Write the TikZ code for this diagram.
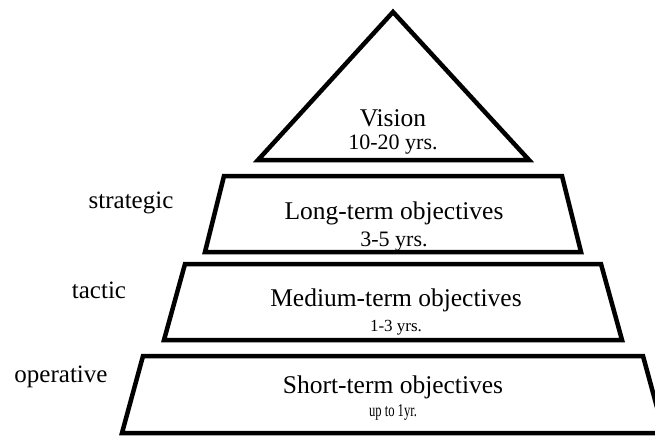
\documentclass[tikz,border=0pt]{standalone}
\usepackage{fontspec}
\setmainfont{Liberation Serif}
\begin{document}
\begin{tikzpicture}[x=1pt,y=-1pt]
\tikzstyle{every node}+=[inner sep=0pt]
\tikzstyle{level}=[black, line width=4.5pt]
\tikzstyle{goal}=[font=\fontsize{25.5}{28}\selectfont]
\tikzstyle{span}=[font=\fontsize{22}{24}\selectfont]
\tikzstyle{tier}=[font=\fontsize{25}{28}\selectfont]
\useasboundingbox (0,0) rectangle (655,436);
\clip (0,0) rectangle (655,436);
\draw [level] (393,12) -- (529,160) -- (258,160) -- cycle;
\draw [level] (224,176) -- (562,176) -- (581,252) -- (205,252) -- cycle;
\draw [level] (185,264) -- (601,264) -- (622,340) -- (164,340) -- cycle;
\draw [level] (143,356) -- (643,356) -- (664,433) -- (122,433) -- cycle;
\node [goal] (vision) at (393,118) {Vision};
\node [span] (visionyrs) at (393,145) {10-20 yrs.};
\node [goal] (long) at (394,213) {Long-term objectives};
\node [span] (longyrs) at (394,242) {3-5 yrs.};
\node [goal] (medium) at (396,300) {Medium-term objectives};
\node [font=\fontsize{17}{19}\selectfont] (mediumyrs) at (396,328) {1-3 yrs.};
\node [goal] (short) at (393,387) {Short-term objectives};
\node [font=\fontsize{18}{20}\selectfont] (shortyrs) at (393,412) {\scalebox{0.7}[1]{up to 1yr.}};
\node [tier] (strategic) at (131,203) {strategic};
\node [tier] (tactic) at (99,290) {tactic};
\node [tier] (operative) at (61,377) {operative};
\end{tikzpicture}
\end{document}
